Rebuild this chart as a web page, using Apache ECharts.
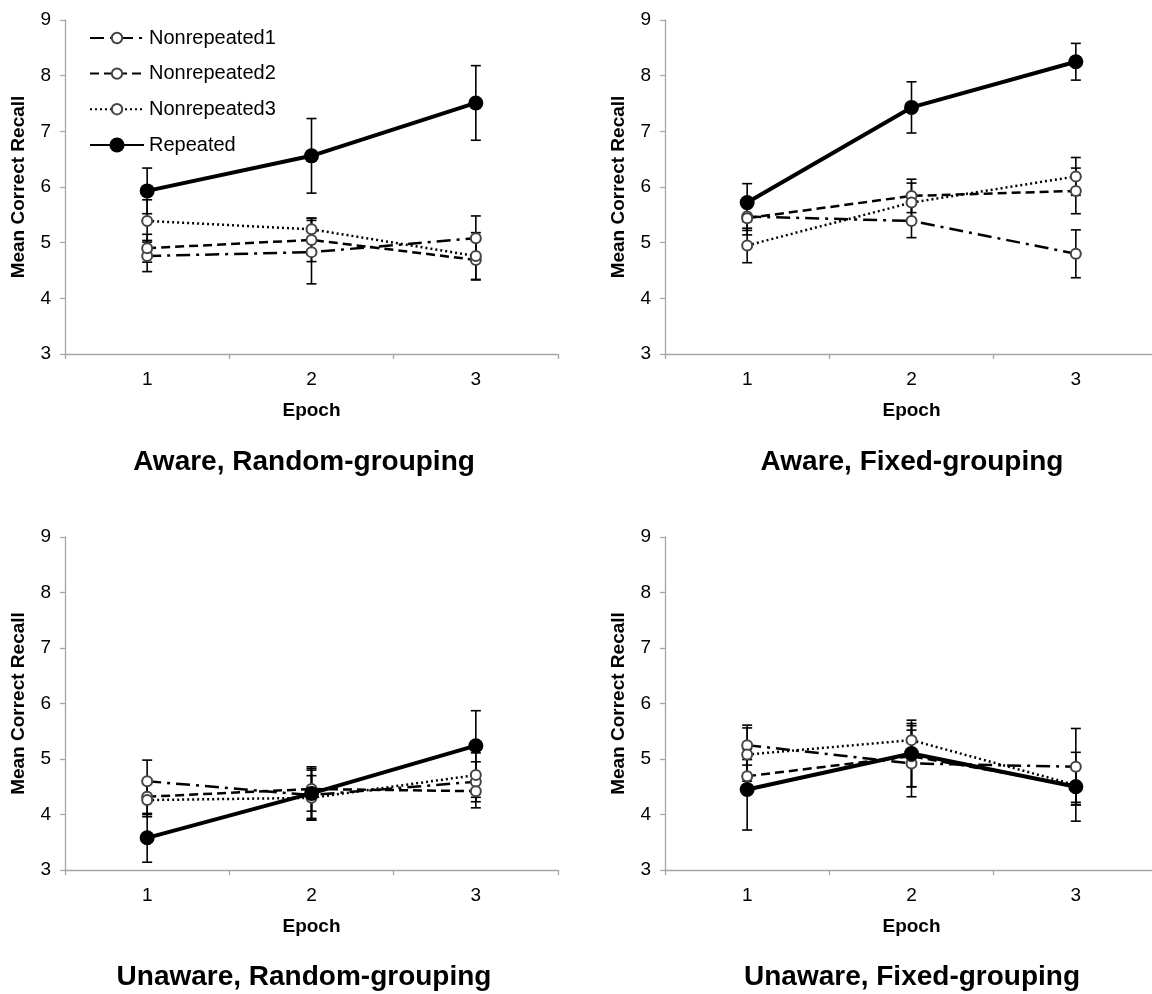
<!DOCTYPE html>
<html><head><meta charset="utf-8">
<script src="https://cdn.jsdelivr.net/npm/echarts@6/dist/echarts.min.js"></script>
<style>html,body{margin:0;padding:0;background:#fff}#c{width:1152px;height:994px}</style>
</head><body><div id="c"></div>
<script>
// ---------- data ----------
const epochs = ['1', '2', '3'];
const seriesNames = ['Nonrepeated1', 'Nonrepeated2', 'Nonrepeated3', 'Repeated'];
const panelTitles = ['Aware, Random-grouping', 'Aware, Fixed-grouping', 'Unaware, Random-grouping', 'Unaware, Fixed-grouping'];
const yMin = 3, yMax = 9, yStep = 1;

// Aware, Random-grouping (means, error half-widths)
const awareRandomNR1 = [4.76, 4.83, 5.08];
const awareRandomNR1Err = [0.28, 0.57, 0.40];
const awareRandomNR2 = [4.90, 5.05, 4.69];
const awareRandomNR2Err = [0.25, 0.39, 0.36];
const awareRandomNR3 = [5.39, 5.24, 4.76];
const awareRandomNR3Err = [0.38, 0.20, 0.42];
const awareRandomRep = [5.93, 6.56, 7.51];
const awareRandomRepErr = [0.41, 0.67, 0.67];

// Aware, Fixed-grouping
const awareFixedNR1 = [5.47, 5.39, 4.80];
const awareFixedNR1Err = [0.33, 0.30, 0.43];
const awareFixedNR2 = [5.44, 5.84, 5.93];
const awareFixedNR2Err = [0.22, 0.30, 0.41];
const awareFixedNR3 = [4.95, 5.72, 6.19];
const awareFixedNR3Err = [0.31, 0.35, 0.34];
const awareFixedRep = [5.72, 7.43, 8.25];
const awareFixedRepErr = [0.34, 0.46, 0.33];

// Unaware, Random-grouping
const unawareRandomNR1 = [4.60, 4.35, 4.59];
const unawareRandomNR1Err = [0.38, 0.45, 0.36];
const unawareRandomNR2 = [4.32, 4.46, 4.42];
const unawareRandomNR2Err = [0.32, 0.40, 0.30];
const unawareRandomNR3 = [4.26, 4.30, 4.71];
const unawareRandomNR3Err = [0.30, 0.40, 0.40];
const unawareRandomRep = [3.58, 4.38, 5.24];
const unawareRandomRepErr = [0.44, 0.45, 0.63];

// Unaware, Fixed-grouping
const unawareFixedNR1 = [5.25, 4.92, 4.86];
const unawareFixedNR1Err = [0.36, 0.60, 0.69];
const unawareFixedNR2 = [4.69, 5.05, 4.52];
const unawareFixedNR2Err = [0.30, 0.55, 0.30];
const unawareFixedNR3 = [5.08, 5.34, 4.53];
const unawareFixedNR3Err = [0.48, 0.30, 0.35];
const unawareFixedRep = [4.45, 5.10, 4.50];
const unawareFixedRepErr = [0.73, 0.60, 0.62];

// ---------- build ----------
const panels = [
  { vals: [awareRandomNR1, awareRandomNR2, awareRandomNR3, awareRandomRep],
    errs: [awareRandomNR1Err, awareRandomNR2Err, awareRandomNR3Err, awareRandomRepErr] },
  { vals: [awareFixedNR1, awareFixedNR2, awareFixedNR3, awareFixedRep],
    errs: [awareFixedNR1Err, awareFixedNR2Err, awareFixedNR3Err, awareFixedRepErr] },
  { vals: [unawareRandomNR1, unawareRandomNR2, unawareRandomNR3, unawareRandomRep],
    errs: [unawareRandomNR1Err, unawareRandomNR2Err, unawareRandomNR3Err, unawareRandomRepErr] },
  { vals: [unawareFixedNR1, unawareFixedNR2, unawareFixedNR3, unawareFixedRep],
    errs: [unawareFixedNR1Err, unawareFixedNR2Err, unawareFixedNR3Err, unawareFixedRepErr] }
];

const FONT = 'Liberation Sans, Arial, Helvetica, sans-serif';
const AXIS_COLOR = '#a6a6a6';
const gridPos = [
  { left: 65, top: 20, width: 493, height: 334 },
  { left: 665, top: 20, width: 493, height: 334 },
  { left: 65, top: 537, width: 493, height: 333 },
  { left: 665, top: 537, width: 493, height: 333 }
];
const titlePos = [[304, 462], [912, 462], [304, 977], [912, 977]];

const lineStyles = [
  { color: '#000', width: 2.5, type: [14, 6, 3, 6] },
  { color: '#000', width: 2.5, type: [9, 5] },
  { color: '#000', width: 2.5, type: [2, 3] },
  { color: '#000', width: 4, type: 'solid' }
];

const grids = [], xAxes = [], yAxes = [], series = [], graphics = [];
panels.forEach((p, gi) => {
  grids.push(Object.assign({ outerBoundsMode: 'none', containLabel: false }, gridPos[gi]));
  xAxes.push({
    type: 'category', gridIndex: gi, data: epochs, boundaryGap: true,
    axisLine: { show: true, lineStyle: { color: AXIS_COLOR, width: 1.3 } },
    axisTick: { show: true, length: 5, lineStyle: { color: AXIS_COLOR, width: 1.3 } },
    axisLabel: { fontSize: 19, color: '#000', margin: 16, fontFamily: FONT },
    splitLine: { show: false },
    name: 'Epoch', nameLocation: 'middle', nameGap: 47,
    nameTextStyle: { fontSize: 19, fontWeight: 'bold', color: '#000', fontFamily: FONT }
  });
  yAxes.push({
    type: 'value', gridIndex: gi, min: yMin, max: yMax, interval: yStep,
    axisLine: { show: true, lineStyle: { color: AXIS_COLOR, width: 1.3 } },
    axisTick: { show: true, length: 5, lineStyle: { color: AXIS_COLOR, width: 1.3 } },
    axisLabel: { fontSize: 19, color: '#000', margin: 14, fontFamily: FONT },
    splitLine: { show: false },
    name: 'Mean Correct Recall', nameLocation: 'middle', nameGap: 37, nameRotate: 90,
    nameTextStyle: { fontSize: 19, fontWeight: 'bold', color: '#000', fontFamily: FONT }
  });
  p.vals.forEach((v, si) => {
    const err = p.errs[si];
    series.push({
      type: 'custom', xAxisIndex: gi, yAxisIndex: gi, z: 1, silent: true,
      data: v.map((m, i) => [i, m - err[i], m + err[i]]),
      renderItem: (params, api) => {
        const x = api.value(0);
        const lo = api.coord([x, api.value(1)]);
        const hi = api.coord([x, api.value(2)]);
        const w = 5;
        const st = { stroke: '#000', lineWidth: 1.6 };
        return { type: 'group', children: [
          { type: 'line', shape: { x1: lo[0], y1: lo[1], x2: hi[0], y2: hi[1] }, style: st },
          { type: 'line', shape: { x1: hi[0] - w, y1: hi[1], x2: hi[0] + w, y2: hi[1] }, style: st },
          { type: 'line', shape: { x1: lo[0] - w, y1: lo[1], x2: lo[0] + w, y2: lo[1] }, style: st }
        ] };
      }
    });
    const isRep = si === 3;
    series.push({
      type: 'line', name: seriesNames[si], xAxisIndex: gi, yAxisIndex: gi,
      data: v, z: isRep ? 5 : 3,
      symbol: 'circle', symbolSize: isRep ? 15 : 10, showAllSymbol: true,
      lineStyle: lineStyles[si],
      itemStyle: isRep ? { color: '#000', borderColor: '#000', borderWidth: 0 }
                       : { color: '#fff', borderColor: '#444', borderWidth: 2 },
      emphasis: { disabled: true }
    });
  });
  graphics.push({
    type: 'text', x: titlePos[gi][0], y: titlePos[gi][1],
    style: { text: panelTitles[gi], font: 'bold 28px ' + FONT, fill: '#000',
             textAlign: 'center', textVerticalAlign: 'middle', align: 'center', verticalAlign: 'middle' }
  });
});

const legendCommon = {
  orient: 'vertical', left: 84, itemWidth: 54, selectedMode: false,
  textStyle: { fontSize: 20, color: '#000', fontFamily: FONT }
};

const chart = echarts.init(document.getElementById('c'), null, { renderer: 'canvas' });
chart.setOption({
  animation: false,
  backgroundColor: '#fff',
  textStyle: { fontFamily: FONT },
  grid: grids, xAxis: xAxes, yAxis: yAxes, series: series,
  legend: [
    Object.assign({}, legendCommon, { data: seriesNames.slice(0, 3), top: 23, itemHeight: 13, itemGap: 15.6 }),
    Object.assign({}, legendCommon, { data: seriesNames.slice(3), top: 130, itemHeight: 19, itemGap: 10 })
  ],
  graphic: graphics
});
</script></body></html>
